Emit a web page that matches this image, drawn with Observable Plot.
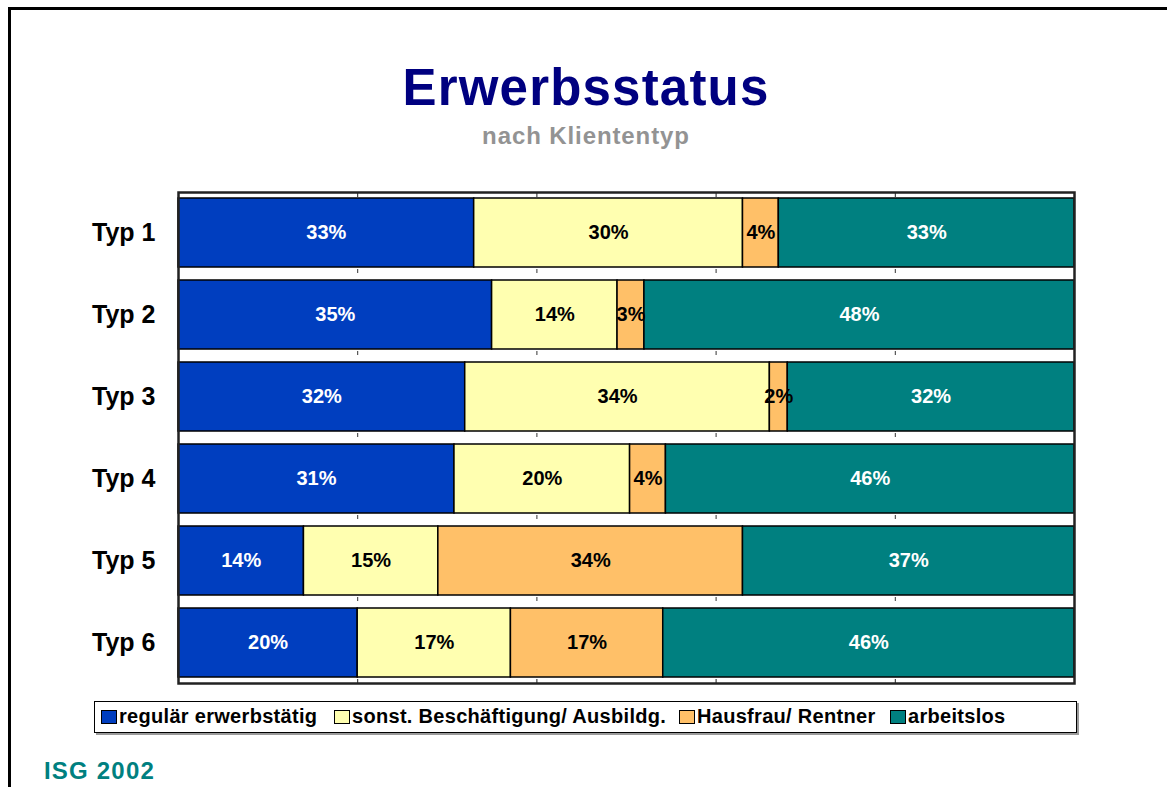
<!DOCTYPE html>
<html><head><meta charset="utf-8">
<script src="https://cdn.jsdelivr.net/npm/d3@7"></script>
<script src="https://cdn.jsdelivr.net/npm/@observablehq/plot@0.6"></script>
<style>
html,body{margin:0;padding:0;background:#fff;overflow:hidden;}
#page{position:relative;width:1167px;height:787px;overflow:hidden;font-family:"Liberation Sans",Arial,sans-serif;font-weight:bold;}
#border{position:absolute;left:8px;top:7px;width:1400px;height:1000px;border:3px solid #000;box-sizing:border-box;}
#title{position:absolute;left:0;width:1172px;top:62px;text-align:center;font-size:51px;line-height:51px;color:#000080;letter-spacing:1.2px;white-space:nowrap;}
#subtitle{position:absolute;left:0;width:1172px;top:124px;text-align:center;font-size:24px;line-height:24px;color:#939393;letter-spacing:0.9px;white-space:nowrap;}
#chart{position:absolute;left:0;top:180px;}
#legend{position:absolute;left:94px;top:701px;width:983px;height:32px;box-sizing:border-box;border:1.5px solid #000;box-shadow:2px 2px 0 #9a9a9a;font-size:20px;letter-spacing:0.3px;}
.item{position:absolute;top:0;height:29px;display:flex;align-items:center;white-space:nowrap;}
.sw{width:16px;height:14px;border:1.5px solid #000;box-sizing:border-box;margin-right:2px;}
#footer{position:absolute;left:44px;top:759px;font-size:24px;line-height:24px;color:#008080;letter-spacing:1.2px;}
</style>
</head><body>
<div id="page">
  <div id="border"></div>
  <div id="title">Erwerbsstatus</div>
  <div id="subtitle">nach Kliententyp</div>
  <div id="chart"></div>
  <div id="legend"></div>
  <div id="footer">ISG 2002</div>
</div>
<script>
const types = ["Typ 1", "Typ 2", "Typ 3", "Typ 4", "Typ 5", "Typ 6"];
const statuses = ["regulär erwerbstätig", "sonst. Beschäftigung/ Ausbildg.", "Hausfrau/ Rentner", "arbeitslos"];
const regulaer   = [33, 35, 32, 30.8, 14, 20];
const sonst      = [30, 14, 34, 19.6, 15, 17.1];
const hausfrau   = [4, 3, 2, 4, 34, 17];
const arbeitslos = [33, 48, 32, 45.6, 37, 45.9];
const xTicks = [20, 40, 60, 80];
const colors = ["#003EBF", "#FFFFB0", "#FFC068", "#008080"];
const darkStatuses = ["regulär erwerbstätig", "arbeitslos"];

const series = [regulaer, sonst, hausfrau, arbeitslos];
const data = types.flatMap((t, i) => statuses.map((s, j) => ({typ: t, status: s, value: series[j][i]})));
const gapTicks = types.slice(0, 5).flatMap(t => xTicks.map(v => ({typ: t, v})));
const label = d => Math.round(d.value) + "%";

const chart = Plot.plot({
  width: 1167, height: 513,
  marginLeft: 178, marginRight: 93, marginTop: 12, marginBottom: 10,
  x: {domain: [0, 100], axis: null},
  y: {domain: types, paddingInner: 0.155, paddingOuter: 0.07, axis: null},
  color: {domain: statuses, range: colors},
  style: {fontFamily: "'Liberation Sans', Arial, sans-serif", fontWeight: "bold", background: "transparent"},
  marks: [
    Plot.tickX(gapTicks, {x: "v", y: "typ", stroke: "#333", strokeWidth: 1, insetTop: 65, dy: 6}),
    Plot.barX(data, Plot.stackX({x: "value", y: "typ", fill: "status", order: statuses, stroke: "#000", strokeWidth: 1.5})),
    Plot.textX(data, Plot.stackX({x: "value", y: "typ", z: "status", order: statuses,
      text: d => darkStatuses.includes(d.status) ? label(d) : "", fill: "white", fontSize: 20, fontWeight: "bold"})),
    Plot.textX(data, Plot.stackX({x: "value", y: "typ", z: "status", order: statuses,
      text: d => darkStatuses.includes(d.status) ? "" : label(d), fill: "black", fontSize: 20, fontWeight: "bold"})),
    Plot.axisY({tickSize: 0, tickPadding: 23, fontSize: 25, fontWeight: "bold", label: null, color: "#000"}),
    Plot.axisX({anchor: "bottom", ticks: xTicks, tickSize: -4, tickFormat: () => "", label: null, stroke: "#222"}),
    Plot.axisX({anchor: "top", ticks: xTicks, tickSize: -4, tickFormat: () => "", label: null, stroke: "#222"}),
    Plot.frame({stroke: "#222", strokeWidth: 2.5})
  ]
});
document.getElementById("chart").appendChild(chart);

const legendLefts = [6, 239, 584, 795];
const legend = document.getElementById("legend");
statuses.forEach((s, i) => {
  const item = document.createElement("div");
  item.className = "item";
  item.style.left = legendLefts[i] + "px";
  const sw = document.createElement("div");
  sw.className = "sw";
  sw.style.background = colors[i];
  const tx = document.createElement("span");
  tx.textContent = s;
  item.appendChild(sw);
  item.appendChild(tx);
  legend.appendChild(item);
});
</script>
</body></html>
